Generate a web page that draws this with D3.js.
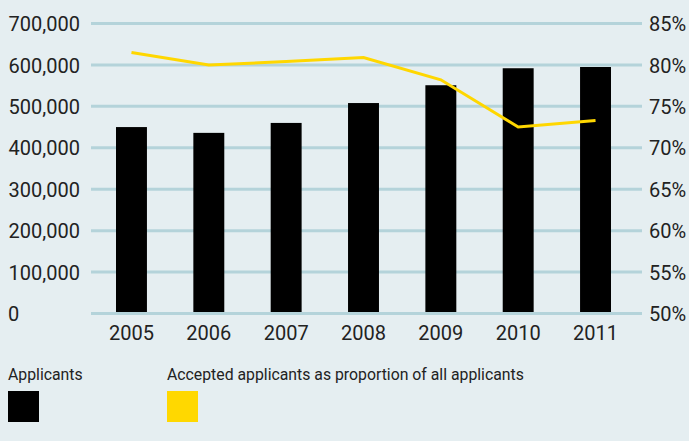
<!DOCTYPE html>
<html>
<head>
<meta charset="utf-8">
<script src="https://cdn.jsdelivr.net/npm/d3@7"></script>
<style>
  html, body { margin: 0; padding: 0; background: #e5eef1; }
  svg { display: block; font-family: Roboto, "DejaVu Sans", sans-serif; }
</style>
</head>
<body>
<svg id="chart" width="689" height="441"></svg>
<script>
// values
const years = ["2005", "2006", "2007", "2008", "2009", "2010", "2011"];
const applicants = [450000, 436000, 460000, 508000, 551000, 592000, 595000];
const acceptedShare = [81.5, 80.0, 80.4, 80.9, 78.2, 72.5, 73.3];
const leftTicks = [0, 100000, 200000, 300000, 400000, 500000, 600000, 700000];
const rightTicks = [50, 55, 60, 65, 70, 75, 80, 85];

const svg = d3.select("#chart");
const W = 689, H = 441;
const plot = { left: 91, right: 642, top: 23.5, bottom: 313.5 };

svg.append("rect").attr("width", W).attr("height", H).attr("fill", "#e5eef1");

// scales
const x = d3.scaleBand().domain(years).range([92.8, 634.2]).paddingInner(0.6).paddingOuter(0.3);
const yLeft = d3.scaleLinear().domain([0, 700000]).range([plot.bottom, plot.top]);
const yRight = d3.scaleLinear().domain([50, 85]).range([plot.bottom, plot.top]);

// gridlines (shared by both axes)
svg.append("g")
  .selectAll("line")
  .data(leftTicks)
  .join("line")
  .attr("x1", plot.left)
  .attr("x2", plot.right)
  .attr("y1", d => yLeft(d))
  .attr("y2", d => yLeft(d))
  .attr("stroke", "#b4d3da")
  .attr("stroke-width", 3);

// left axis labels
const fmt = d3.format(",");
const leftAxis = svg.append("g")
  .attr("transform", "translate(80,0)")
  .call(d3.axisLeft(yLeft).tickValues(leftTicks).tickFormat(d => fmt(d)).tickSize(0).tickPadding(0));
leftAxis.select(".domain").remove();
leftAxis.selectAll("text")
  .attr("font-size", 20)
  .attr("fill", "#222")
  .attr("font-family", "Roboto, sans-serif")
  .attr("text-anchor", "end")
  .attr("dy", "0.36em")
  .attr("x", 0);
// the zero label sits at the far left
leftAxis.selectAll("text").filter(d => d === 0).attr("text-anchor", "start").attr("x", -72);

// right axis labels
const rightAxis = svg.append("g")
  .attr("transform", "translate(649,0)")
  .call(d3.axisRight(yRight).tickValues(rightTicks).tickFormat(d => d + "%").tickSize(0).tickPadding(0));
rightAxis.select(".domain").remove();
rightAxis.selectAll("text")
  .attr("font-size", 20)
  .attr("fill", "#222")
  .attr("font-family", "Roboto, sans-serif")
  .attr("dy", "0.36em")
  .attr("x", 0);

// x axis labels
const xAxis = svg.append("g")
  .attr("transform", `translate(0,${plot.bottom})`)
  .call(d3.axisBottom(x).tickSize(0).tickPadding(0));
xAxis.select(".domain").remove();
xAxis.selectAll("text")
  .attr("font-size", 20)
  .attr("fill", "#222")
  .attr("font-family", "Roboto, sans-serif")
  .attr("dy", "0.71em")
  .attr("y", 12);

// bars
svg.append("g")
  .selectAll("rect")
  .data(years.map((y, i) => ({ year: y, value: applicants[i] })))
  .join("rect")
  .attr("x", d => x(d.year))
  .attr("width", x.bandwidth())
  .attr("y", d => yLeft(d.value))
  .attr("height", d => plot.bottom - 1.5 - yLeft(d.value))
  .attr("fill", "#000");

// proportion line
const line = d3.line()
  .x(d => x(d.year) + x.bandwidth() / 2)
  .y(d => yRight(d.value));
svg.append("path")
  .datum(years.map((y, i) => ({ year: y, value: acceptedShare[i] })))
  .attr("d", line)
  .attr("fill", "none")
  .attr("stroke", "#ffd700")
  .attr("stroke-width", 3);

// legend
const legendItems = [
  { label: "Applicants", color: "#000", x: 8 },
  { label: "Accepted applicants as proportion of all applicants", color: "#ffd800", x: 167 },
];
const legend = svg.append("g");
legend.selectAll("text")
  .data(legendItems)
  .join("text")
  .attr("x", d => d.x)
  .attr("y", 380)
  .attr("font-size", 15.8)
  .attr("fill", "#222")
  .text(d => d.label);
legend.selectAll("rect")
  .data(legendItems)
  .join("rect")
  .attr("x", d => d.x)
  .attr("y", 391)
  .attr("width", 31)
  .attr("height", 31)
  .attr("fill", d => d.color);
</script>
</body>
</html>
